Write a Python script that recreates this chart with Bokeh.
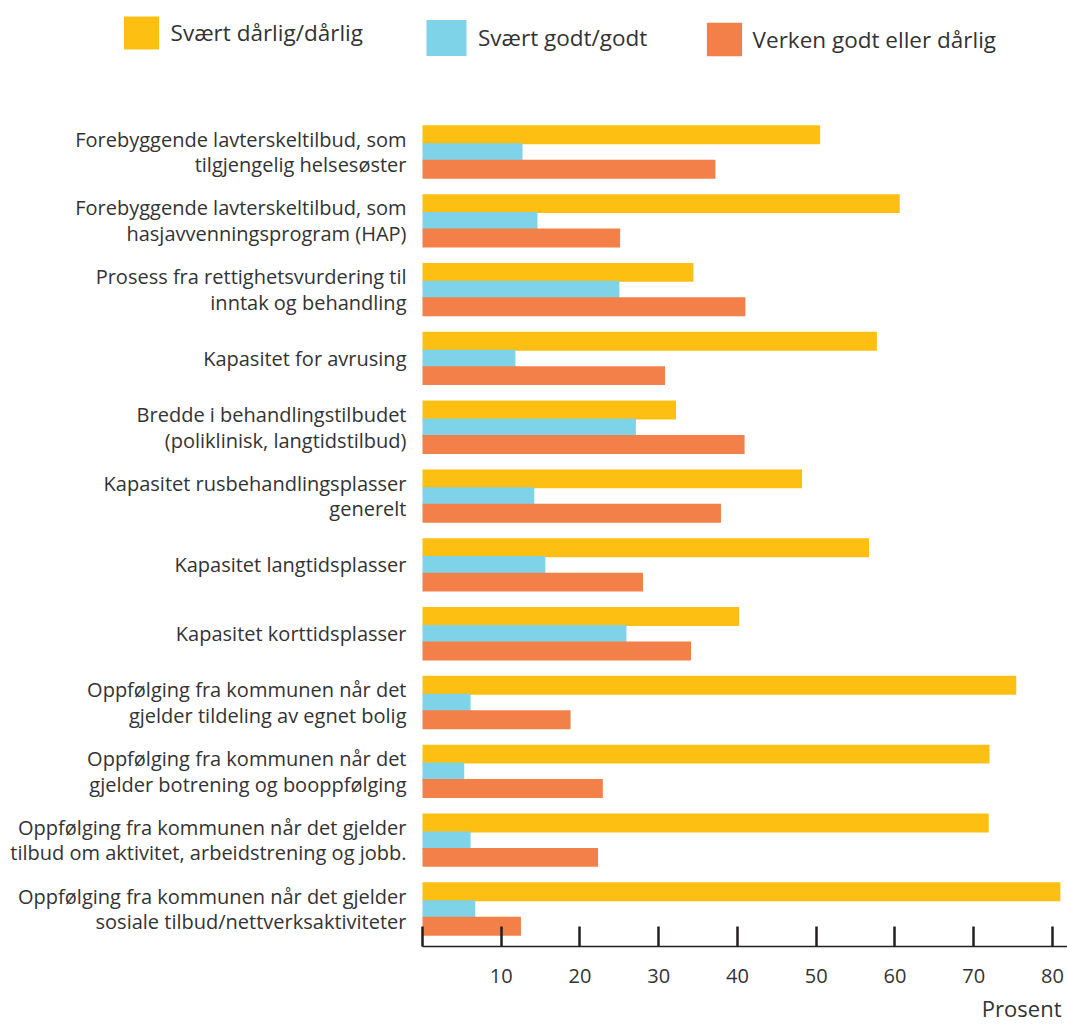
from bokeh.plotting import figure
from bokeh.models import Range1d, FixedTicker, Legend, LegendItem, Title, ColumnDataSource
from bokeh.core.properties import value
from bokeh.embed import file_html
from bokeh.resources import INLINE

categories = [
    "Forebyggende lavterskeltilbud, som\ntilgjengelig helsesøster",
    "Forebyggende lavterskeltilbud, som\nhasjavvenningsprogram (HAP)",
    "Prosess fra rettighetsvurdering til\ninntak og behandling",
    "Kapasitet for avrusing",
    "Bredde i behandlingstilbudet\n(poliklinisk, langtidstilbud)",
    "Kapasitet rusbehandlingsplasser\ngenerelt",
    "Kapasitet langtidsplasser",
    "Kapasitet korttidsplasser",
    "Oppfølging fra kommunen når det\ngjelder tildeling av egnet bolig",
    "Oppfølging fra kommunen når det\ngjelder botrening og booppfølging",
    "Oppfølging fra kommunen når det gjelder\ntilbud om aktivitet, arbeidstrening og jobb.",
    "Oppfølging fra kommunen når det gjelder\nsosiale tilbud/nettverksaktiviteter",
]
svaert_darlig = [50.5, 60.6, 34.4, 57.7, 32.2, 48.2, 56.7, 40.2, 75.4, 72.0, 71.9, 81.0]
svaert_godt = [12.7, 14.6, 25.0, 11.8, 27.1, 14.2, 15.6, 25.9, 6.1, 5.3, 6.1, 6.7]
verken = [37.2, 25.1, 41.0, 30.8, 40.9, 37.9, 28.0, 34.1, 18.8, 22.9, 22.3, 12.5]
series_names = ["Svært dårlig/dårlig", "Svært godt/godt", "Verken godt eller dårlig"]
colors = ["#FCBF12", "#7FD3E8", "#F38048"]
x_ticks = [0, 10, 20, 30, 40, 50, 60, 70, 80]
x_title = "Prosent"

FONT = "Open Sans"
TEXT = "#333333"

# frame covers the full width; value 0 sits 422 px from the left edge
PX_PER_UNIT = 7.875
X_END = 81.905
X_START = -422 / PX_PER_UNIT

p = figure(width=1067, height=1028, output_backend="svg", toolbar_location=None,
           x_range=Range1d(X_START, X_END), y_range=Range1d(11.545, -2.201),
           y_axis_location=None,
           min_border_left=0, min_border_right=0, min_border_top=0, min_border_bottom=82)
p.outline_line_color = None
p.xgrid.visible = False
p.ygrid.visible = False

idx = list(range(len(categories)))
offsets = [-0.25, 0.0, 0.25]
heights = [0.275, 0.255, 0.275]
renderers = []
for vals, off, h, col in zip([svaert_darlig, svaert_godt, verken], offsets, heights, colors):
    src = ColumnDataSource(dict(y=[i + off for i in idx], right=vals))
    r = p.hbar(y="y", left=0, right="right", height=h, source=src, fill_color=col, line_color=None)
    renderers.append(r)

# category labels (right-aligned just left of the value axis origin)
lab_src = ColumnDataSource(dict(x=[0] * len(idx), y=idx, text=categories))
p.text(x="x", y="y", text="text", source=lab_src, x_offset=-16,
       text_align="right", text_baseline="middle", text_font=value(FONT),
       text_font_size="20px", text_color=TEXT, text_line_height=0.95)

# x axis
xa = p.xaxis[0]
xa.bounds = (0, X_END)
xa.ticker = FixedTicker(ticks=x_ticks)
xa.major_label_overrides = {0: ""}
xa.major_tick_in = 20
xa.major_tick_out = 0
xa.minor_tick_in = 0
xa.minor_tick_out = 0
xa.major_tick_line_width = 2.5
xa.major_tick_line_color = "#231F20"
xa.axis_line_color = "#231F20"
xa.axis_line_width = 1.5
xa.major_label_standoff = 22
xa.major_label_text_font = FONT
xa.major_label_text_font_size = "20px"
xa.major_label_text_color = TEXT

# legends, one per series, positioned in screen px from the frame's bottom-left
# (x, y, glyph_width, glyph_height, label_standoff)
leg_pos = [(118.6, 892.9, 43.75, 41.25, 8),
           (421.0, 886.5, 50.0, 45.0, 7),
           (701.6, 885.8, 43.75, 42.5, 7)]
for name, r, (lx, ly, gw, gh, so) in zip(series_names, renderers, leg_pos):
    lg = Legend(items=[LegendItem(label=name, renderers=[r])], location=(lx, ly),
                glyph_width=int(round(gw)), glyph_height=int(round(gh)), label_standoff=so,
                padding=0, margin=0, spacing=0,
                border_line_color=None, background_fill_alpha=0,
                label_text_font=FONT, label_text_font_size="22.5px",
                label_text_color=TEXT, label_height=int(round(gh)))
    p.add_layout(lg, "center")

t = Title(text=x_title, align="right", text_font=FONT, text_font_size="22px",
          text_font_style="normal", text_color=TEXT, offset=6, standoff=11)
p.add_layout(t, "below")

open("out.html", "w").write(file_html(p, INLINE))
